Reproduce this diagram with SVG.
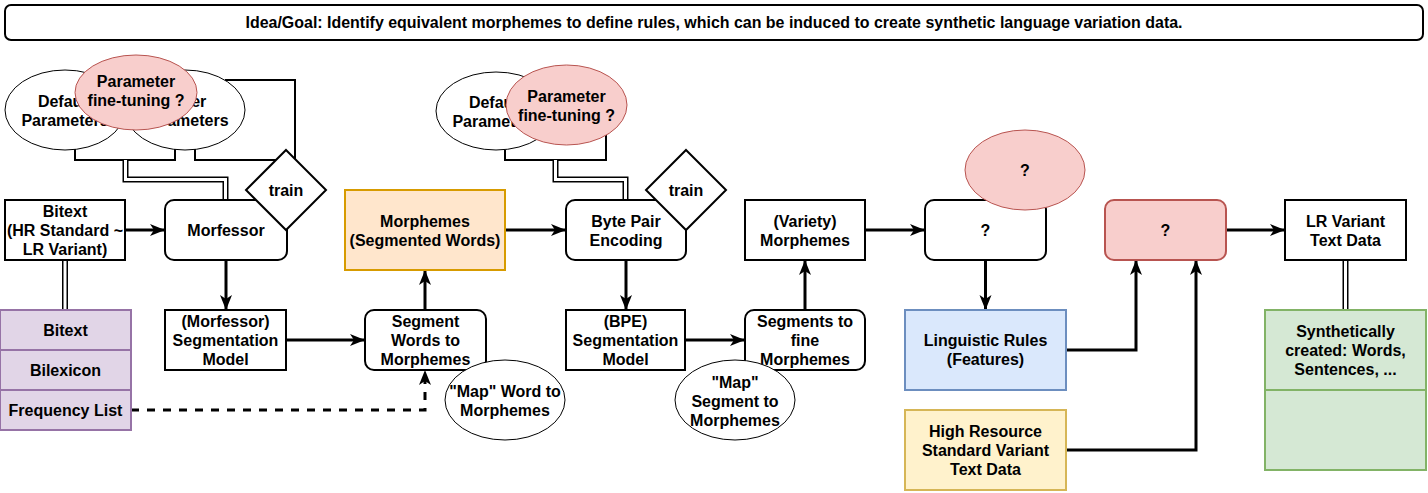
<svg xmlns="http://www.w3.org/2000/svg" width="1428" height="493" viewBox="0 0 1428 493">
<style>
.t{font-family:"Liberation Sans",Arial,Helvetica,sans-serif;font-weight:bold;font-size:16px;text-anchor:middle;fill:#000}
.n{fill:#fff;stroke:#000;stroke-width:2}
.e{fill:#fff;stroke:#000;stroke-width:1}
.pe{fill:#f8cecc;stroke:#b85450;stroke-width:1}
.c{fill:none;stroke:#000;stroke-width:2}
.ca{fill:none;stroke:#000;stroke-width:3;marker-end:url(#arr)}
.dash{fill:none;stroke:#000;stroke-width:3;stroke-dasharray:8 8;marker-end:url(#arr)}
.d1{fill:none;stroke:#000;stroke-width:6}
.d2{fill:none;stroke:#fff;stroke-width:3}
</style>
<defs>
<marker id="arr" markerUnits="userSpaceOnUse" markerWidth="16" markerHeight="14" refX="15" refY="7" orient="auto">
<path d="M0,1 L15,7 L0,13 L4,7 Z" fill="#000"/>
</marker>
</defs>
<rect width="1428" height="493" fill="#fff"/>

<g id="connectors">
<polyline class="c" points="75,149 75,160 175,160 175,149"/>
<polyline class="c" points="195,149 195,160 295,160 295,80 225,80"/>
<path class="d1" d="M125.5,160 V179.5 H225.5 V200"/>
<path class="d2" d="M125.5,160 V179.5 H225.5 V200"/>
<polyline class="c" points="505,150 505,160 606,160 606,135"/>
<path class="d1" d="M555.5,160 V179.5 H625.5 V200"/>
<path class="d2" d="M555.5,160 V179.5 H625.5 V200"/>
<path class="d1" d="M65,260 V310"/>
<path class="d2" d="M65,260 V310"/>
<path class="d1" d="M1345.5,260 V310"/>
<path class="d2" d="M1345.5,260 V310"/>
<line class="ca" x1="125" y1="230" x2="165" y2="230"/>
<line class="ca" x1="226" y1="260" x2="226" y2="310"/>
<line class="ca" x1="286" y1="340" x2="365" y2="340"/>
<line class="ca" x1="425" y1="310" x2="425" y2="270"/>
<line class="ca" x1="505" y1="230" x2="566" y2="230"/>
<line class="ca" x1="626" y1="260" x2="626" y2="310"/>
<line class="ca" x1="685" y1="340" x2="745" y2="340"/>
<line class="ca" x1="805" y1="310" x2="805" y2="260"/>
<line class="ca" x1="865" y1="230" x2="925" y2="230"/>
<line class="ca" x1="985.5" y1="260" x2="985.5" y2="310"/>
<polyline class="ca" points="1066,350 1136,350 1136,260"/>
<polyline class="ca" points="1066,450 1196,450 1196,260"/>
<line class="ca" x1="1226" y1="230" x2="1285" y2="230"/>
<polyline class="dash" points="131,410 425,410 425,370"/>
</g>

<g id="banner">
<rect class="n" x="5" y="5" width="1418" height="35" rx="6"/>
<text class="t" x="714" y="28" textLength="937" lengthAdjust="spacingAndGlyphs">Idea/Goal: Identify equivalent morphemes to define rules, which can be induced to create synthetic language variation data.</text>
</g>

<g id="default-params-1">
<ellipse class="e" cx="65" cy="110" rx="60" ry="40"/>
<text class="t"><tspan x="65" y="107">Default</tspan><tspan x="65" y="126">Parameters</tspan></text>
</g>
<g id="other-params-1">
<ellipse class="e" cx="185" cy="110" rx="60" ry="40"/>
<text class="t"><tspan x="185" y="107">Other</tspan><tspan x="185" y="126">Parameters</tspan></text>
</g>
<g id="finetune-1">
<ellipse class="pe" cx="136" cy="92.5" rx="61" ry="37.5"/>
<text class="t"><tspan x="136" y="87">Parameter</tspan><tspan x="136" y="106">fine-tuning ?</tspan></text>
</g>

<g id="bitext">
<rect class="n" x="5" y="200" width="120" height="60"/>
<text class="t"><tspan x="65" y="216.5">Bitext</tspan><tspan x="65" y="235.5">(HR Standard ~</tspan><tspan x="65" y="254.5">LR Variant)</tspan></text>
</g>

<g id="morfessor">
<rect class="n" x="165" y="200" width="122" height="60" rx="9"/>
<text class="t" x="226" y="235.5">Morfessor</text>
</g>
<g id="train-1">
<polygon class="n" points="286,150 326,190 286,230 246,190"/>
<text class="t" x="286" y="195.5">train</text>
</g>

<g id="resources-table">
<rect x="0" y="310" width="131" height="120" fill="#e1d5e7" stroke="#9673a6" stroke-width="2"/>
<line x1="0" y1="350" x2="131" y2="350" stroke="#9673a6" stroke-width="2"/>
<line x1="0" y1="390" x2="131" y2="390" stroke="#9673a6" stroke-width="2"/>
<text class="t" x="65.5" y="335.5">Bitext</text>
<text class="t" x="65.5" y="375.5">Bilexicon</text>
<text class="t" x="65.5" y="415.5">Frequency List</text>
</g>

<g id="morfessor-model">
<rect class="n" x="165" y="310" width="121" height="60"/>
<text class="t"><tspan x="225.5" y="326.5">(Morfessor)</tspan><tspan x="225.5" y="345.5">Segmentation</tspan><tspan x="225.5" y="364.5">Model</tspan></text>
</g>

<g id="segment-words">
<rect class="n" x="365" y="310" width="121" height="60" rx="9"/>
<text class="t"><tspan x="425.5" y="326.5">Segment</tspan><tspan x="425.5" y="345.5">Words to</tspan><tspan x="425.5" y="364.5">Morphemes</tspan></text>
</g>
<g id="map-word">
<ellipse class="e" cx="505" cy="400" rx="60" ry="40"/>
<text class="t"><tspan x="505" y="396.5">"Map" Word to</tspan><tspan x="505" y="415.5">Morphemes</tspan></text>
</g>

<g id="morphemes">
<rect x="345" y="190" width="160" height="80" fill="#ffe6cc" stroke="#d79b00" stroke-width="2"/>
<text class="t"><tspan x="425" y="226.5">Morphemes</tspan><tspan x="425" y="245.5">(Segmented Words)</tspan></text>
</g>

<g id="default-params-2">
<ellipse class="e" cx="496" cy="111" rx="60" ry="39"/>
<text class="t"><tspan x="496" y="107.5">Default</tspan><tspan x="496" y="126.5">Parameters</tspan></text>
</g>
<g id="finetune-2">
<ellipse class="pe" cx="566.5" cy="105" rx="60.5" ry="40"/>
<text class="t"><tspan x="566.5" y="101.5">Parameter</tspan><tspan x="566.5" y="120.5">fine-tuning ?</tspan></text>
</g>

<g id="bpe">
<rect class="n" x="566" y="200" width="120" height="60" rx="9"/>
<text class="t"><tspan x="626" y="226.5">Byte Pair</tspan><tspan x="626" y="245.5">Encoding</tspan></text>
</g>
<g id="train-2">
<polygon class="n" points="686,150 726,190 686,230 646,190"/>
<text class="t" x="686" y="195.5">train</text>
</g>

<g id="bpe-model">
<rect class="n" x="566" y="310" width="119" height="60"/>
<text class="t"><tspan x="625.5" y="326.5">(BPE)</tspan><tspan x="625.5" y="345.5">Segmentation</tspan><tspan x="625.5" y="364.5">Model</tspan></text>
</g>

<g id="segments-fine">
<rect class="n" x="745" y="310" width="120" height="60" rx="9"/>
<text class="t"><tspan x="805" y="326.5">Segments to</tspan><tspan x="805" y="345.5">fine</tspan><tspan x="805" y="364.5">Morphemes</tspan></text>
</g>
<g id="map-segment">
<ellipse class="e" cx="735" cy="400" rx="60" ry="40"/>
<text class="t"><tspan x="735" y="387.5">"Map"</tspan><tspan x="735" y="406.5">Segment to</tspan><tspan x="735" y="425.5">Morphemes</tspan></text>
</g>

<g id="variety-morphemes">
<rect class="n" x="745" y="200" width="120" height="60"/>
<text class="t"><tspan x="805" y="226.5">(Variety)</tspan><tspan x="805" y="245.5">Morphemes</tspan></text>
</g>

<g id="unknown-step">
<rect class="n" x="925" y="200" width="121" height="60" rx="9"/>
<text class="t" x="985.5" y="235.5">?</text>
</g>
<g id="unknown-ellipse">
<ellipse class="pe" cx="1025" cy="170" rx="60" ry="40"/>
<text class="t" x="1025" y="175.5">?</text>
</g>

<g id="linguistic-rules">
<rect x="905" y="310" width="161" height="80" fill="#dae8fc" stroke="#6c8ebf" stroke-width="2"/>
<text class="t"><tspan x="985.5" y="346">Linguistic Rules</tspan><tspan x="985.5" y="365">(Features)</tspan></text>
</g>

<g id="hr-data">
<rect x="905" y="410" width="161" height="80" fill="#fff2cc" stroke="#d6b656" stroke-width="2"/>
<text class="t"><tspan x="985.5" y="436.5">High Resource</tspan><tspan x="985.5" y="455.5">Standard Variant</tspan><tspan x="985.5" y="474.5">Text Data</tspan></text>
</g>

<g id="unknown-generator">
<rect x="1105" y="200" width="121" height="60" rx="9" fill="#f8cecc" stroke="#b85450" stroke-width="2"/>
<text class="t" x="1165.5" y="235.5">?</text>
</g>

<g id="lr-variant">
<rect class="n" x="1285" y="200" width="121" height="60"/>
<text class="t"><tspan x="1345.5" y="226.5">LR Variant</tspan><tspan x="1345.5" y="245.5">Text Data</tspan></text>
</g>

<g id="synthetic-table">
<rect x="1265" y="310" width="161" height="160" fill="#d5e8d4" stroke="#82b366" stroke-width="2"/>
<line x1="1265" y1="390" x2="1426" y2="390" stroke="#82b366" stroke-width="2"/>
<text class="t"><tspan x="1345.5" y="336.5">Synthetically</tspan><tspan x="1345.5" y="355.5">created: Words,</tspan><tspan x="1345.5" y="374.5">Sentences, ...</tspan></text>
</g>
</svg>
